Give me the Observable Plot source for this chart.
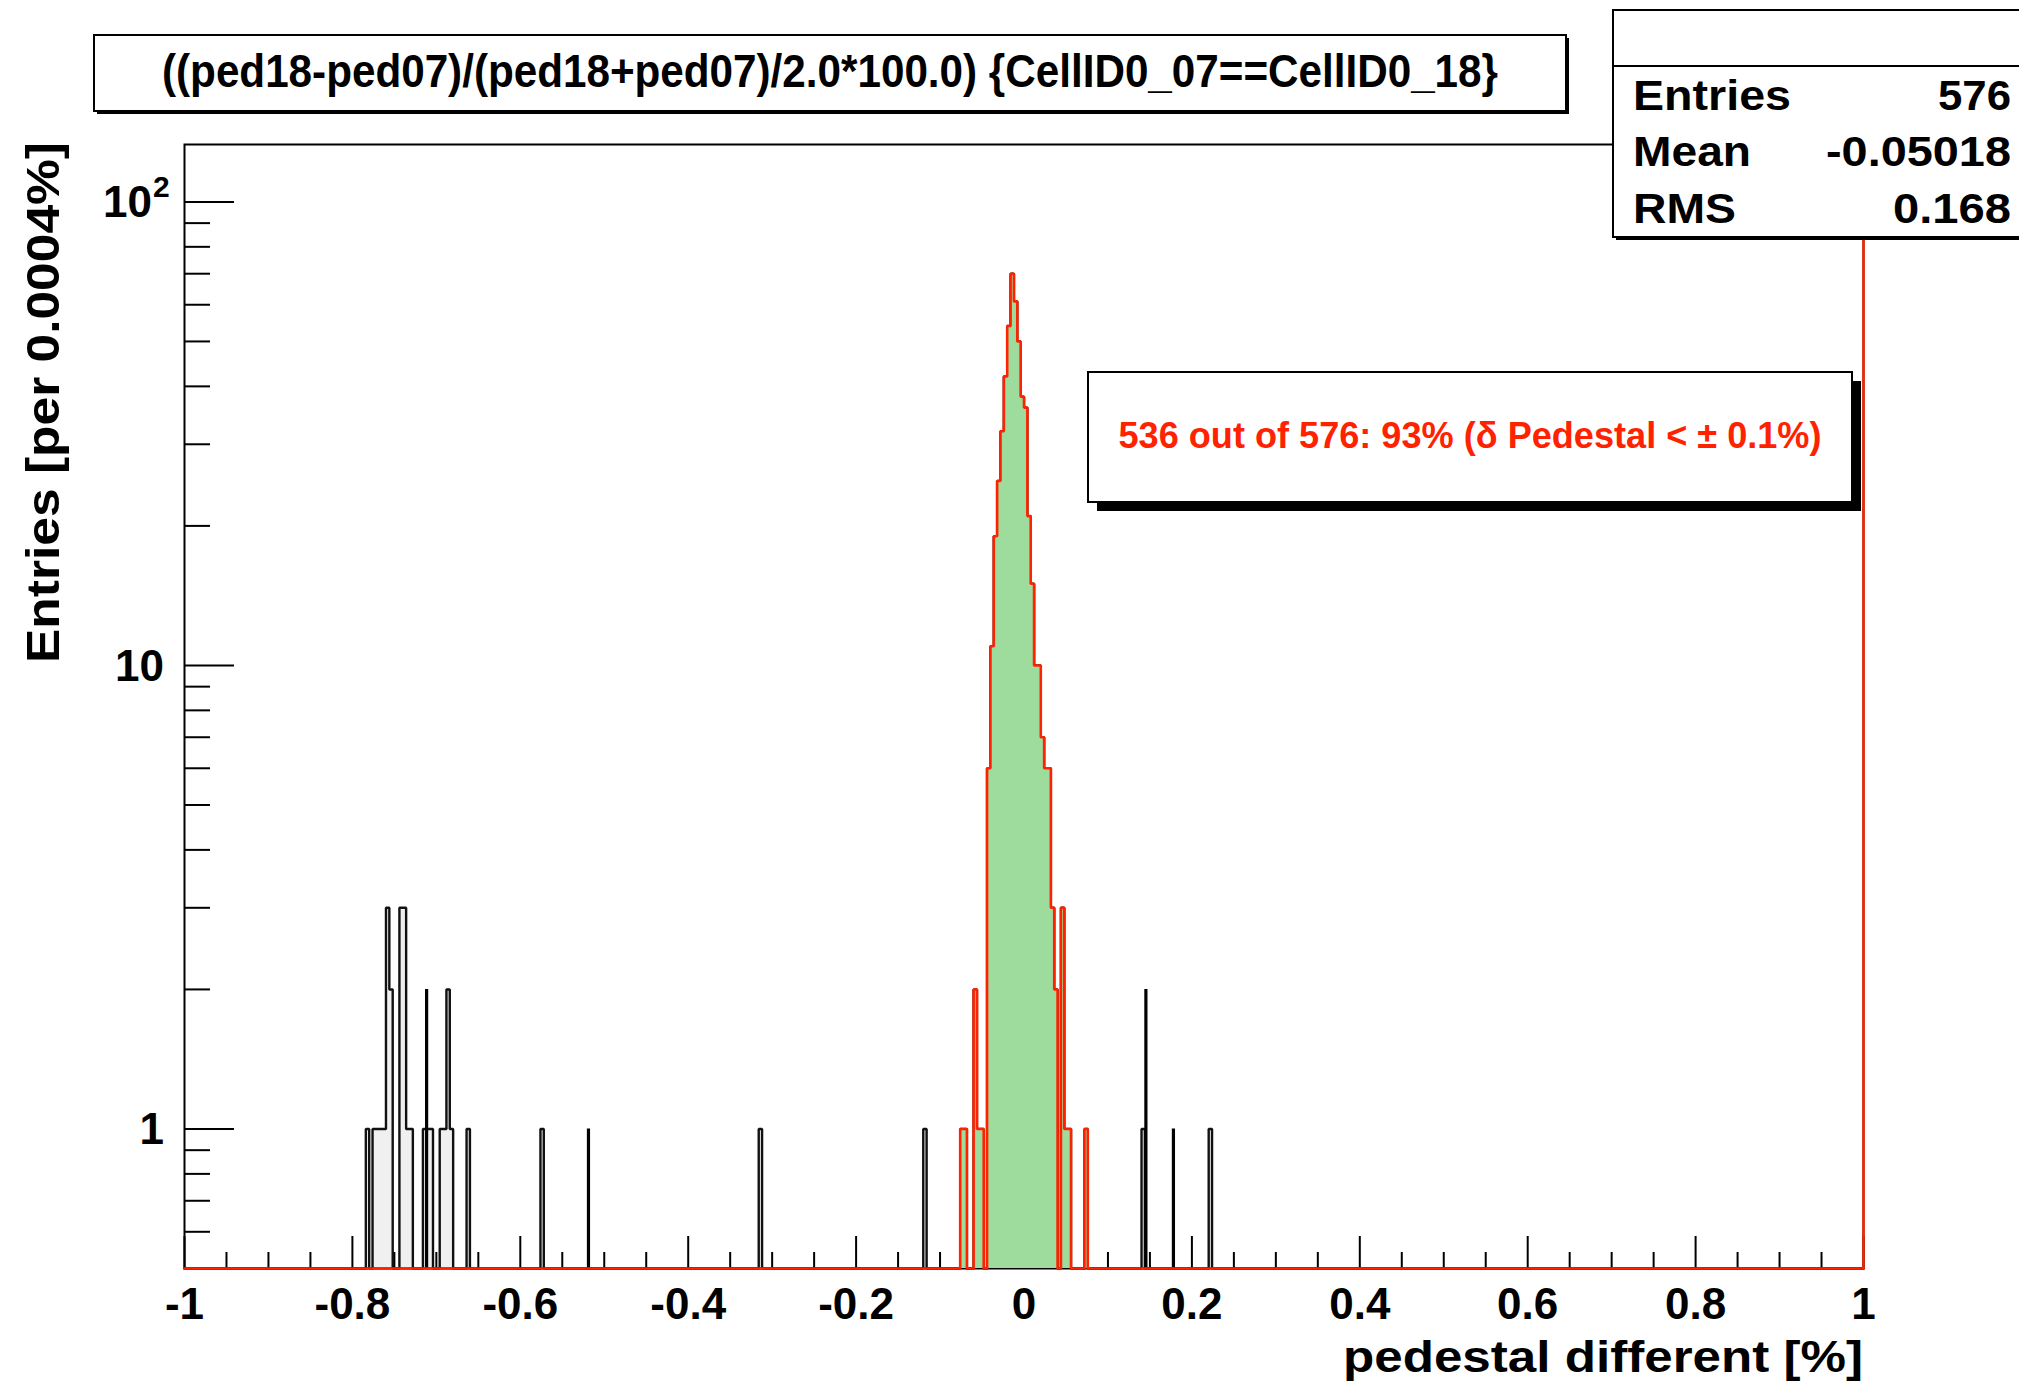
<!DOCTYPE html>
<html><head><meta charset="utf-8">
<script src="https://cdn.jsdelivr.net/npm/d3@7"></script>
<script src="https://cdn.jsdelivr.net/npm/@observablehq/plot@0.6"></script>
<style>html,body{margin:0;padding:0;background:#fff;} svg{display:block;}</style>
</head><body><div id="chart"></div>
<script>
// ---- axis ranges ----
const xMin = -1, xMax = 1, binWidth = 0.004;
const yMin = 0.5, yMax = 133;

// ---- selected histogram (|delta pedestal| < 0.1%): bin lower edges and counts ----
const selLo = [-0.076,-0.072,-0.060,-0.056,-0.052,-0.044,-0.040,-0.036,-0.032,-0.028,-0.024,-0.020,-0.016,
  -0.012,-0.008,-0.004,0.000,0.004,0.008,0.012,0.016,0.020,0.024,0.028,0.032,0.036,0.044,0.048,0.052,0.072];
const selCount = [1,1,2,1,1,6,11,19,25,32,42,54,70,61,50,38,36,21,15,10,10,7,6,6,3,2,3,1,1,1];

// ---- remaining entries (outside the selection): bin lower edges and counts ----
const outLo = [-0.784,-0.776,-0.772,-0.768,-0.764,-0.760,-0.756,-0.744,-0.740,-0.736,-0.732,-0.716,-0.712,-0.708,
  -0.696,-0.692,-0.688,-0.684,-0.664,-0.576,-0.316,-0.120,0.140,0.220];
const outCount = [1,1,1,1,1,3,2,3,3,1,1,1,1,1,1,1,2,1,1,1,1,1,1,1];

// ---- narrow single-line entries ----
const spikeX = [-0.7116,-0.5188,0.1452,0.178];
const spikeCount = [2,1,2,1];

// ---- ticks and labels ----
const xMajorTicks = [-1,-0.8,-0.6,-0.4,-0.2,0,0.2,0.4,0.6,0.8,1];
const xTickLabels = ["-1","-0.8","-0.6","-0.4","-0.2","0","0.2","0.4","0.6","0.8","1"];
const xMinorTicks = [-0.95,-0.9,-0.85,-0.75,-0.7,-0.65,-0.55,-0.5,-0.45,-0.35,-0.3,-0.25,-0.15,-0.1,-0.05,
  0.05,0.1,0.15,0.25,0.3,0.35,0.45,0.5,0.55,0.65,0.7,0.75,0.85,0.9,0.95];
const yMajorTicks = [1,10,100];
const yTickBase = ["1","10","10"];
const yTickExp = ["","","2"];
const yMinorTicks = [0.6,0.7,0.8,0.9,2,3,4,5,6,7,8,9,20,30,40,50,60,70,80,90];

// ---- texts ----
const titleText = "((ped18-ped07)/(ped18+ped07)/2.0*100.0) {CellID0_07==CellID0_18}";
const xTitle = "pedestal different [%]";
const yTitle = "Entries [per 0.0004%]";
const statsRows = [["Entries","576"],["Mean","-0.05018"],["RMS","0.168"]];
const annotation = "536 out of 576: 93% (\u03B4 Pedestal < \u00B1 0.1%)";

// ---- layout ----
const W = 2019, H = 1382;
const mL = 184, mR = 156, mT = 144, mB = 114;
const frameW = W - mL - mR, frameH = H - mT - mB;
const FONT = "'Liberation Sans', Arial, Helvetica, sans-serif";
const RED = "#ff2200", GREEN = "#9edc9e";

// build full binned table from the arrays
const nBins = Math.round((xMax - xMin) / binWidth);
const binIndex = v => Math.round((v - xMin) / binWidth);
const selBins = new Array(nBins).fill(0);
selLo.forEach((v, i) => selBins[binIndex(v)] += selCount[i]);
const allBins = selBins.slice();
outLo.forEach((v, i) => allBins[binIndex(v)] += outCount[i]);
const binTable = d3.range(nBins).map(k => ({lo: xMin + k * binWidth, hi: xMin + (k + 1) * binWidth, all: allBins[k], sel: selBins[k]}));
const stepPoints = key => binTable.flatMap(b => {
  const c = Math.max(b[key], yMin);
  return [{x: b.lo, y: c}, {x: b.hi, y: c}];
});
const spikes = spikeX.map((x, i) => ({x, c: spikeCount[i]}));

const chart = Plot.plot({
  width: W, height: H,
  marginLeft: mL, marginRight: mR, marginTop: mT, marginBottom: mB,
  x: {domain: [xMin, xMax], axis: null},
  y: {type: "log", domain: [yMin, yMax], axis: null},
  style: {background: "#fff", fontFamily: FONT},
  marks: [
    Plot.areaY(stepPoints("all"), {x: "x", y1: yMin, y2: "y", fill: "#f0f0f0"}),
    Plot.line(stepPoints("all"), {x: "x", y: "y", stroke: "#111", strokeWidth: 2.4, strokeLinejoin: "miter"}),
    Plot.ruleX(spikes, {x: "x", y1: yMin, y2: "c", stroke: "#000", strokeWidth: 3.2}),
    Plot.frame({stroke: "#000", strokeWidth: 2}),
    Plot.tickX(xMajorTicks, {x: d => d, insetTop: frameH - 32, stroke: "#000", strokeWidth: 2}),
    Plot.tickX(xMinorTicks, {x: d => d, insetTop: frameH - 16, stroke: "#000", strokeWidth: 2}),
    Plot.tickY(yMajorTicks, {y: d => d, insetRight: frameW - 50, stroke: "#000", strokeWidth: 2}),
    Plot.tickY(yMinorTicks, {y: d => d, insetRight: frameW - 26, stroke: "#000", strokeWidth: 2}),
    Plot.areaY(stepPoints("sel"), {x: "x", y1: yMin, y2: "y", fill: GREEN}),
    Plot.line(stepPoints("sel"), {x: "x", y: "y", stroke: RED, strokeWidth: 2.6, strokeLinejoin: "miter"}),
    Plot.ruleX([xMax], {stroke: RED, strokeWidth: 2.5}),
    Plot.text(xMajorTicks, {x: d => d, text: (d, i) => xTickLabels[i], frameAnchor: "bottom", dy: 36,
      fontSize: 44, fontWeight: "bold", lineAnchor: "middle", fill: "#000"})
  ]
});
document.getElementById("chart").appendChild(chart);

// ---- overlays ----
const svg = d3.select(chart);
const g = svg.append("g").attr("font-family", FONT).attr("font-weight", "bold");
function box(x, y, w, h, shadow) {
  if (shadow) g.append("rect").attr("x", x + shadow).attr("y", y + shadow).attr("width", w).attr("height", h).attr("fill", "#000");
  g.append("rect").attr("x", x).attr("y", y).attr("width", w).attr("height", h)
    .attr("fill", "#fff").attr("stroke", "#000").attr("stroke-width", 2);
}
function txt(s, x, y, size, anchor, len, color) {
  const t = g.append("text").attr("x", x).attr("y", y).attr("font-size", size)
    .attr("text-anchor", anchor).attr("fill", color || "#000").text(s);
  if (len) t.attr("textLength", len).attr("lengthAdjust", "spacingAndGlyphs");
  return t;
}

// y tick labels, placed with Plot's own y scale
const yScale = chart.scale("y");
yMajorTicks.forEach((v, i) => {
  const py = yScale.apply(v);
  const hasExp = yTickExp[i] !== "";
  txt(yTickBase[i], hasExp ? 152 : 164, py + 16, 44, "end");
  if (hasExp) txt(yTickExp[i], 153, py - 4, 30, "start");
});

// axis titles
txt(xTitle, 1863, 1372, 44, "end", 520);
g.append("text").attr("transform", "translate(59,142) rotate(-90)").attr("font-size", 46)
  .attr("text-anchor", "end").attr("textLength", 521).attr("lengthAdjust", "spacingAndGlyphs").text(yTitle);

// title
box(94, 35, 1472, 76, 3);
txt(titleText, 830, 87, 46, "middle", 1336);

// stats box
box(1613, 10, 430, 227, 3);
g.append("line").attr("x1", 1613).attr("x2", W).attr("y1", 66).attr("y2", 66).attr("stroke", "#000").attr("stroke-width", 2);
const rowBase = [110, 166, 223];
const labLen = [158, 118, 103], valLen = [73, 185, 118];
statsRows.forEach((r, i) => {
  txt(r[0], 1633, rowBase[i], 42, "start", labLen[i]);
  txt(r[1], 2011, rowBase[i], 42, "end", valLen[i]);
});

// annotation box
box(1088, 372, 764, 130, 9);
txt(annotation, 1470, 448, 37, "middle", 703, RED);
</script>
</body></html>
